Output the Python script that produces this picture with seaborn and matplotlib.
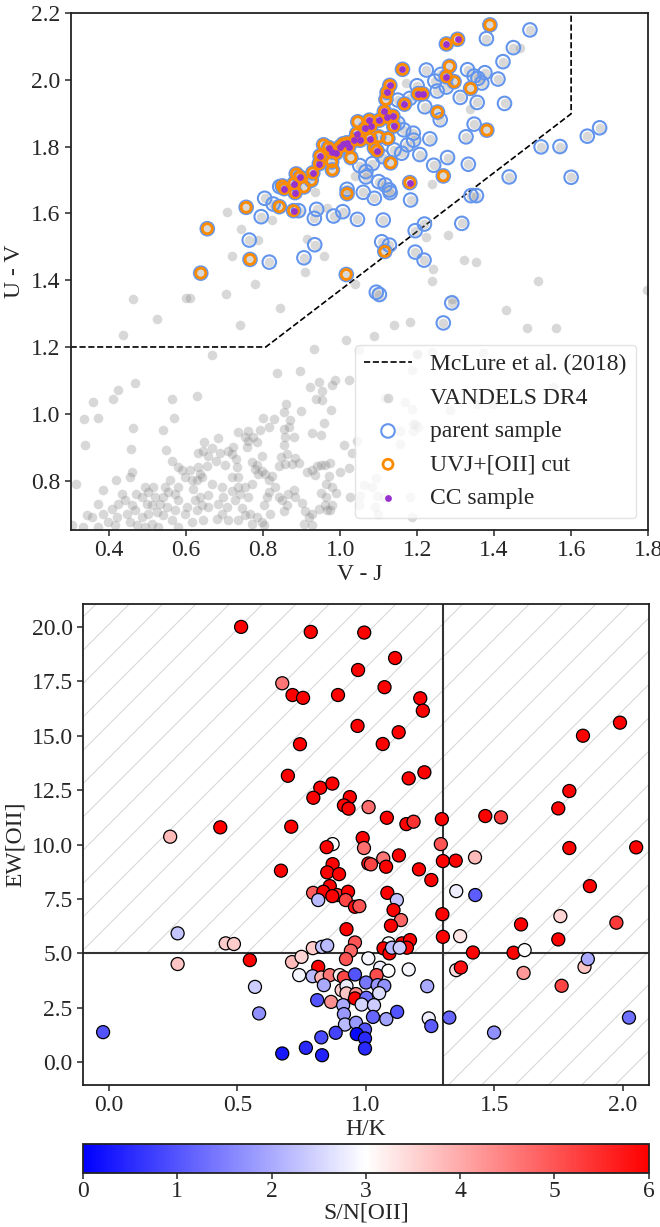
import numpy as np
import pandas as pd
import matplotlib
matplotlib.use("Agg")
import matplotlib.pyplot as plt
import seaborn as sns
from matplotlib.colors import Normalize
from matplotlib.cm import ScalarMappable

# ---------------- data: UVJ panel ----------------
# parent sample (V-J, U-V, stage) stage: 0 = parent only, 1 = UVJ+[OII] cut, 2 = CC sample
parent_vj = [1.389, 1.493, 1.276, 1.305, 1.380, 1.450, 1.423, 1.162, 1.224, 1.284, 1.276, 1.296, 1.246, 1.262,
             1.331, 1.348, 1.358, 1.376, 1.368, 1.410, 1.276, 1.339, 1.312, 1.356, 1.427, 1.252, 1.200, 1.129,
             1.122, 1.119, 1.167, 1.203, 1.214, 1.150, 1.181, 1.220, 1.253, 1.260, 1.348, 1.381, 1.327, 1.233,
             1.191, 1.207, 1.243, 1.279, 1.333, 1.268, 1.439, 1.522, 1.571, 1.642, 1.674, 1.600,
             1.115, 1.137, 1.123, 1.102, 1.139, 1.080, 1.076, 1.065, 1.046, 1.043, 1.078, 1.100, 1.089, 1.096,
             1.131, 1.124, 1.052, 1.037, 1.017, 1.008, 1.022, 1.000, 0.990, 0.970, 0.957, 0.948, 0.946, 0.978,
             0.978, 1.028, 0.980, 0.929, 0.925, 0.906, 0.895, 0.886, 0.880, 0.883, 0.855, 0.850, 0.843,
             1.150, 1.165, 1.175, 1.160, 1.140, 1.190, 1.110,
             1.051, 1.084, 1.067, 1.067, 1.100, 1.117, 1.128, 1.130, 1.060, 1.089, 1.018, 1.018, 1.183, 1.181,
             0.879, 0.892, 0.842, 0.826, 0.804, 0.795, 0.756, 0.939, 0.933, 0.983, 1.007, 1.045, 1.112, 1.219,
             1.195, 1.316, 1.340, 1.354, 0.655, 0.764, 0.934, 0.906, 0.766, 0.816, 0.638, 1.016, 1.108, 1.128,
             1.116, 1.195, 1.218, 1.094, 1.102, 1.290, 1.268]
parent_uv = [2.164, 2.149, 2.107, 2.121, 2.123, 2.096, 2.054, 2.031, 2.029, 2.040, 2.009, 1.994, 1.996, 2.016,
             2.030, 2.011, 2.004, 2.021, 1.990, 2.002, 1.978, 1.974, 1.947, 1.932, 1.929, 1.966, 1.982, 1.983,
             1.962, 1.941, 1.927, 1.958, 1.958, 1.939, 1.944, 1.919, 1.903, 1.880, 1.867, 1.849, 1.829, 1.823,
             1.819, 1.776, 1.744, 1.767, 1.747, 1.712, 1.709, 1.799, 1.800, 1.831, 1.856, 1.708,
             1.905, 1.891, 1.887, 1.879, 1.861, 1.861, 1.879, 1.854, 1.874, 1.838, 1.824, 1.829, 1.796, 1.787,
             1.751, 1.824, 1.819, 1.819, 1.811, 1.808, 1.799, 1.799, 1.781, 1.797, 1.805, 1.772, 1.749, 1.784,
             1.754, 1.767, 1.730, 1.721, 1.699, 1.679, 1.709, 1.718, 1.689, 1.662, 1.674, 1.682, 1.680,
             1.870, 1.850, 1.805, 1.780, 1.790, 1.840, 1.770,
             1.743, 1.749, 1.725, 1.709, 1.695, 1.685, 1.670, 1.662, 1.663, 1.645, 1.672, 1.659, 1.640, 1.692,
             1.608, 1.608, 1.620, 1.628, 1.645, 1.590, 1.618, 1.612, 1.585, 1.592, 1.605, 1.582, 1.580, 1.568,
             1.548, 1.570, 1.653, 1.653, 1.554, 1.520, 1.506, 1.467, 1.462, 1.454, 1.421, 1.417, 1.515, 1.505,
             1.486, 1.484, 1.460, 1.364, 1.357, 1.332, 1.272]
parent_stage = [1, 0, 2, 2, 0, 0, 0, 2, 0, 1, 2, 1, 0, 0,
                0, 0, 0, 0, 0, 0, 0, 1, 0, 0, 0, 0, 0, 2,
                2, 1, 2, 2, 2, 0, 0, 0, 1, 0, 0, 1, 0, 0,
                0, 0, 0, 0, 0, 1, 0, 0, 0, 0, 0, 0,
                2, 2, 2, 2, 2, 2, 2, 2, 1, 2, 2, 1, 1, 2,
                1, 1, 2, 2, 2, 2, 2, 2, 2, 2, 1, 2, 2, 2,
                1, 1, 1, 2, 1, 1, 2, 1, 2, 2, 2, 1, 0,
                0, 0, 0, 0, 0, 0, 0,
                0, 0, 0, 0, 0, 0, 0, 0, 0, 0, 0, 1, 0, 2,
                2, 0, 1, 0, 0, 0, 1, 0, 0, 0, 0, 0, 0, 0,
                0, 0, 0, 0, 1, 0, 0, 0, 1, 0, 1, 1, 0, 0,
                1, 0, 0, 0, 0, 0, 0]

# remaining VANDELS DR4 objects (not in parent sample)
dr4_vj = [1.466, 1.337, 1.172, 1.038, 0.936, 0.707, 0.823, 0.743, 0.787, 0.914, 0.719, 0.959, 0.908, 0.780,
          1.038, 1.238, 1.279, 1.222, 1.241, 1.322, 1.354, 1.238, 1.515, 0.610, 0.600, 0.703, 0.461, 1.798,
          0.965, 0.843, 0.524, 0.740, 0.436, 1.141, 1.181, 1.432, 1.485, 1.560, 1.087, 1.015, 1.290,
          1.199, 1.238, 1.372, 1.186, 1.286, 1.355, 1.398, 1.554, 1.190, 1.203,
          0.667, 0.931, 0.836, 0.895, 0.358, 0.409, 0.424, 0.466, 0.563, 0.627, 0.334, 0.372, 0.463, 0.539,
          0.568, 0.338, 0.457, 0.547, 0.563, 0.313, 0.384, 0.418, 0.459, 0.454, 0.922, 0.944, 0.954, 0.978,
          0.987, 0.937, 0.952, 0.976, 0.899, 0.859, 0.855, 0.829, 0.871, 0.814, 0.800, 0.791, 0.855, 0.867,
          0.857, 0.880, 0.854, 0.861, 0.846, 0.883, 0.928, 0.951, 0.958, 1.009, 1.023, 1.049, 1.117, 1.200,
          0.736, 0.760, 0.753, 0.762, 0.775, 0.757, 0.783, 0.682, 0.647, 0.632, 0.645, 0.667, 0.688, 0.708,
          0.721, 0.719, 0.677, 0.658, 0.654, 0.701, 0.729, 0.733, 0.798, 0.771, 0.783, 0.779, 0.797, 0.786,
          0.805, 0.822, 0.842, 0.857, 0.874, 0.892, 0.914, 0.928, 0.940, 0.951, 0.961, 0.974, 1.000, 1.022,
          0.935, 0.970, 0.963, 0.978, 0.951, 0.989, 0.964, 0.978, 0.961, 0.944, 0.965, 0.975, 1.026, 1.052,
          1.048, 1.063, 1.093, 1.082, 1.095, 1.115, 1.091, 1.098, 1.182, 1.186, 1.156, 1.169, 1.186, 1.190,
          1.156, 1.195, 1.043, 1.032, 0.815, 0.831, 0.864, 0.881, 0.883, 0.848, 0.840, 0.816, 0.810, 0.803,
          0.818, 0.853, 0.861, 0.902, 0.909, 0.926, 0.905, 0.926, 0.918, 0.766, 0.771, 0.783, 0.796, 0.801,
          0.734, 0.753, 0.745, 0.727, 0.719, 0.740, 0.760, 0.753, 0.771, 0.719, 0.736, 0.736, 0.693, 0.697,
          0.684, 0.706, 0.693, 0.680, 0.710, 0.658, 0.658, 0.667, 0.642, 0.628, 0.636, 0.632, 0.610, 0.589,
          0.580, 0.597, 0.615, 0.619, 0.636, 0.623, 0.641, 0.628, 0.645, 0.615, 0.597, 0.602, 0.580, 0.571,
          0.580, 0.558, 0.545, 0.554, 0.541, 0.532, 0.550, 0.571, 0.563, 0.580, 0.541, 0.524, 0.511, 0.519,
          0.502, 0.493, 0.515, 0.485, 0.498, 0.502, 0.485, 0.467, 0.459, 0.446, 0.454, 0.472, 0.493, 0.511,
          0.528, 0.424, 0.407, 0.420, 0.398, 0.385, 0.372, 0.355, 0.342, 0.333, 0.372, 0.416, 0.442, 0.469,
          0.433, 0.303]
dr4_uv = [2.094, 1.912, 1.989, 1.713, 1.665, 1.603, 1.580, 1.552, 1.520, 1.522, 1.472, 1.472, 1.425, 1.388,
          1.388, 1.688, 1.535, 1.528, 1.432, 1.460, 1.455, 1.398, 1.398, 1.347, 1.347, 1.360, 1.343, 1.370,
          1.615, 1.318, 1.283, 1.267, 1.237, 1.267, 1.275, 1.310, 1.257, 1.257, 1.232, 1.220, 1.345,
          1.180, 1.185, 1.182, 1.130, 1.010, 1.030, 1.030, 1.080, 0.970, 0.960,
          1.175, 1.193, 1.122, 1.127, 1.036, 1.045, 1.070, 1.092, 1.043, 1.052, 0.985, 0.987, 0.958, 0.952,
          0.988, 0.908, 0.894, 0.892, 0.860, 0.790, 0.771, 0.803, 0.826, 0.811, 1.080, 1.095, 1.068, 1.085,
          1.100, 1.045, 1.040, 1.010, 1.008, 1.030, 1.005, 0.983, 0.980, 0.960, 0.988, 0.952, 0.955, 0.960,
          0.930, 0.930, 0.907, 0.880, 0.870, 0.868, 0.942, 0.938, 0.972, 0.908, 1.102, 1.190, 1.047, 1.180,
          0.945, 0.948, 0.930, 0.920, 0.930, 0.902, 0.915, 0.927, 0.917, 0.884, 0.888, 0.897, 0.884, 0.890,
          0.900, 0.880, 0.858, 0.873, 0.843, 0.846, 0.864, 0.841, 0.873, 0.856, 0.846, 0.836, 0.829, 0.821,
          0.821, 0.813, 0.843, 0.851, 0.851, 0.853, 0.825, 0.832, 0.843, 0.846, 0.848, 0.853, 0.827, 0.837,
          0.816, 0.813, 0.791, 0.781, 0.763, 0.763, 0.751, 0.726, 0.726, 0.716, 0.711, 0.711, 0.751, 0.753,
          0.726, 0.786, 0.808, 0.781, 0.753, 0.751, 0.721, 0.699, 0.751, 0.691, 0.948, 1.035, 1.015, 0.950,
          0.910, 0.970, 0.920, 0.884, 0.801, 0.781, 0.761, 0.771, 0.751, 0.741, 0.751, 0.766, 0.751, 0.726,
          0.699, 0.710, 0.726, 0.733, 0.710, 0.701, 0.671, 0.666, 0.691, 0.701, 0.671, 0.691, 0.676, 0.666,
          0.681, 0.696, 0.719, 0.741, 0.769, 0.761, 0.751, 0.781, 0.791, 0.811, 0.811, 0.781, 0.781, 0.751,
          0.731, 0.721, 0.701, 0.686, 0.681, 0.721, 0.756, 0.791, 0.811, 0.801, 0.821, 0.841, 0.831, 0.831,
          0.841, 0.811, 0.801, 0.776, 0.751, 0.741, 0.726, 0.711, 0.681, 0.676, 0.701, 0.721, 0.741, 0.761,
          0.781, 0.801, 0.781, 0.766, 0.751, 0.731, 0.721, 0.711, 0.681, 0.661, 0.696, 0.706, 0.726, 0.751,
          0.766, 0.781, 0.781, 0.751, 0.731, 0.701, 0.691, 0.711, 0.726, 0.701, 0.676, 0.666, 0.661, 0.671,
          0.661, 0.731, 0.716, 0.691, 0.676, 0.701, 0.731, 0.691, 0.696, 0.661, 0.661, 0.666, 0.741, 0.761,
          0.761, 0.666]

mclure_vj = [0.3, 0.807, 1.6, 1.6]
mclure_uv = [1.2, 1.2, 1.898, 2.3]

# ---------------- data: EW vs H/K panel ----------------
hk = [0.515, 0.786, 0.994, 1.114, 0.970, 0.675, 0.715, 0.756, 0.892, 1.073, 1.212, 1.222, 0.968, 1.128,
      0.744, 1.066, 1.845, 1.989, 0.697, 1.228, 1.167, 0.823, 0.870, 0.796, 0.938, 0.915, 0.933, 1.011,
      1.082, 1.158, 1.186, 1.296, 1.465, 1.526, 1.749, 1.792, 0.434, 0.710, 0.239, 0.871, 0.848, 0.988,
      0.993, 1.292, 1.792, 2.052, 0.871, 0.850, 0.896, 1.010, 1.020, 1.068, 1.079, 1.129, 1.207, 1.255,
      1.300, 1.350, 1.425, 0.670, 1.352, 1.426, 1.872, 0.860, 0.795, 0.835, 0.889, 0.870, 0.931, 0.922,
      0.958, 0.975, 0.815, 1.084, 1.121, 1.108, 1.137, 1.098, 0.925, 1.298, 1.300, 1.367, 1.604, 1.757,
      1.975, 1.749, 0.268, 0.455, 0.487, 0.958, 0.942, 0.923, 1.089, 1.141, 1.172, 1.160, 1.069, 1.092,
      1.102, 1.132, 0.794, 0.830, 0.850, 1.417, 1.575, 1.618,
      0.549, 0.268, 0.713, 0.750, 1.010, 1.056, 1.088, 1.167, 1.352, 1.370, 1.614, 1.851, 1.864, 1.762,
      0.815, 0.741, 0.793, 0.827, 0.860, 0.899, 0.915, 0.958, 1.042, 0.837, 1.001, 1.046, 1.072, 1.052,
      0.569, 1.239, 0.906, 0.925, 0.925, 0.962, 0.958, 0.865, 0.811, 0.912, 1.002, 0.984, 1.032, 0.585,
      0.915, 1.028, 1.080, 1.122, 1.245, 1.255, 1.325, 2.024, 1.499, -0.022, 0.919, 0.962, 0.997, 0.965,
      0.997, 0.883, 0.827, 0.997, 0.767, 0.675, 0.830]
ew = [20.00, 19.77, 19.74, 18.57, 18.02, 17.41, 16.87, 16.74, 16.87, 17.23, 16.72, 16.15, 15.45, 15.16,
      14.61, 14.62, 15.00, 15.60, 13.16, 13.32, 13.04, 12.61, 12.80, 12.15, 12.18, 11.80, 11.65, 11.72,
      11.23, 10.94, 11.05, 11.17, 11.31, 11.25, 11.66, 12.46, 10.79, 10.82, 10.36, 10.02, 9.88, 10.30,
      9.84, 10.02, 9.84, 9.87, 9.10, 8.72, 8.64, 9.13, 9.09, 9.36, 8.98, 9.50, 8.86, 8.37,
      9.24, 9.26, 9.41, 8.80, 7.86, 7.68, 8.09, 8.09, 7.78, 7.83, 7.68, 7.63, 7.83, 7.45,
      7.14, 7.17, 7.45, 7.78, 7.45, 6.99, 6.53, 6.27, 6.11, 6.80, 5.76, 5.79, 6.33, 6.71,
      6.41, 5.64, 5.92, 5.46, 5.43, 5.50, 5.12, 4.74, 5.46, 5.46, 5.61, 5.26, 5.23, 5.00,
      5.26, 5.26, 5.24, 5.30, 5.36, 5.04, 5.03, 5.15,
      4.69, 4.51, 4.60, 4.84, 4.77, 4.34, 4.20, 4.26, 4.23, 4.35, 4.10, 4.38, 4.74, 3.51,
      4.38, 4.00, 3.95, 3.89, 4.00, 4.00, 3.89, 4.03, 4.00, 3.54, 3.66, 3.54, 3.51, 3.17,
      3.46, 3.49, 3.31, 3.50, 3.16, 3.13, 2.93, 2.77, 2.85, 2.62, 2.96, 2.65, 2.62, 2.24,
      2.21, 2.08, 1.98, 2.31, 2.01, 1.66, 2.05, 2.05, 1.36, 1.38, 1.73, 1.81, 1.50, 1.29,
      1.09, 1.35, 1.14, 0.63, 0.66, 0.40, 0.32]
sn = [6, 6, 6, 6, 6, 4.6, 6, 6, 6, 6, 6, 6, 6, 6,
      6, 6, 6, 6, 6, 6, 6, 6, 6, 6, 6, 6, 6, 4.7,
      6, 6, 5.4, 6, 6, 5.3, 6, 6, 6, 6, 3.8, 3.0, 6, 6,
      4.7, 5.0, 6, 6, 6, 6, 6, 5.8, 5.2, 4.6, 6, 6, 6, 6,
      6, 6, 3.8, 6, 2.8, 1.1, 6, 6, 4.9, 6, 5.4, 6, 6, 5.2,
      5.8, 5.0, 2.2, 6, 2.3, 6, 4.8, 6, 6, 6, 6, 3.3, 6, 3.5,
      5.3, 6, 2.3, 3.6, 3.6, 5.0, 4.8, 5.0, 3.0, 6, 6, 6, 6, 6,
      2.2, 2.4, 3.6, 2.3, 2.2, 6, 6, 3.0,
      6, 3.7, 3.8, 3.5, 2.9, 2.8, 3.0, 2.9, 3.4, 5.8, 4.2, 3.7, 2.0, 5.2,
      6, 2.9, 2.2, 3.9, 4.6, 3.2, 5.2, 1.0, 5.1, 2.0, 1.4, 1.8, 1.7, 2.6,
      2.4, 2.0, 3.6, 2.8, 3.7, 4.3, 6, 4.3, 1.0, 2.0, 1.3, 2.5, 2.4, 1.7,
      1.8, 1.2, 1.9, 1.0, 2.8, 1.1, 1.2, 1.3, 1.7, 1.0, 2.2, 1.8, 1.0, 0.1,
      0.5, 0.8, 0.9, 0.5, 0.5, 0.3, 0.4]

hk_cut = 1.3
ew_cut = 5.0

# ---------------- style ----------------
sns.set_style("ticks")
plt.rcParams["font.family"] = ["Liberation Serif", "DejaVu Serif"]
plt.rcParams["mathtext.fontset"] = "stix"
plt.rcParams["font.size"] = 17
plt.rcParams["axes.linewidth"] = 1.3
plt.rcParams["axes.edgecolor"] = "#222222"
plt.rcParams["hatch.linewidth"] = 0.7

fig = plt.figure(figsize=(6.6, 12.27), dpi=100)
ax1 = fig.add_axes([0.107, 0.568, 0.875, 0.4215])
ax2 = fig.add_axes([0.1258, 0.1157, 0.8568, 0.392])
cax = fig.add_axes([0.1258, 0.0440, 0.8568, 0.0237])

# ---------- top panel ----------
par = pd.DataFrame({"vj": parent_vj, "uv": parent_uv, "stage": parent_stage})
dr4 = pd.DataFrame({"vj": dr4_vj + parent_vj, "uv": dr4_uv + parent_uv})

ax1.plot(mclure_vj, mclure_uv, ls="--", color="black", lw=1.2, label="McLure et al. (2018)")
sns.scatterplot(data=dr4, x="vj", y="uv", ax=ax1, color="grey", alpha=0.3, s=48,
                linewidth=0, label="VANDELS DR4", zorder=2)
sns.scatterplot(data=par, x="vj", y="uv", ax=ax1, facecolor="none", edgecolor="cornflowerblue",
                s=95, linewidth=1.5, label="parent sample", zorder=3)
cut = par[par["stage"] >= 1]
sns.scatterplot(data=cut, x="vj", y="uv", ax=ax1, facecolor="none", edgecolor="darkorange",
                s=52, linewidth=2.0, label="UVJ+[OII] cut", zorder=4)
cc = par[par["stage"] == 2]
sns.scatterplot(data=cc, x="vj", y="uv", ax=ax1, color="darkorchid", s=24, linewidth=0,
                label="CC sample", zorder=5)

ax1.set_xlim(0.3, 1.8)
ax1.set_ylim(0.652, 2.2)
ax1.set_xticks([0.4, 0.6, 0.8, 1.0, 1.2, 1.4, 1.6, 1.8])
ax1.set_yticks([0.8, 1.0, 1.2, 1.4, 1.6, 1.8, 2.0, 2.2])
ax1.set_xticklabels(["0.4", "0.6", "0.8", "1.0", "1.2", "1.4", "1.6", "1.8"])
ax1.set_yticklabels(["0.8", "1.0", "1.2", "1.4", "1.6", "1.8", "2.0", "2.2"])
ax1.set_xlabel("V - J", labelpad=2)
ax1.set_ylabel("U - V", labelpad=4)
leg = ax1.legend(loc="lower right", fontsize=17, frameon=True, framealpha=0.8,
                 edgecolor="#dddddd", fancybox=True)

# ---------- bottom panel ----------
ax2.set_xlim(-0.1, 2.1)
ax2.set_ylim(-1.05, 21.05)
hatch_x = [-0.1, 2.1]
ax2.fill_between(hatch_x, [ew_cut, ew_cut], [21.05, 21.05], hatch="/", facecolor="none",
                 edgecolor="#d4d4d4", linewidth=0, zorder=0)
ax2.fill_between([hk_cut, 2.1], [-1.05, -1.05], [ew_cut, ew_cut], hatch="/", facecolor="none",
                 edgecolor="#d4d4d4", linewidth=0, zorder=0)
ax2.axvline(hk_cut, color="#333333", lw=1.5, zorder=1)
ax2.axhline(ew_cut, color="#333333", lw=1.5, zorder=1)

bot = pd.DataFrame({"hk": hk, "ew": ew, "sn": sn})
sns.scatterplot(data=bot, x="hk", y="ew", hue="sn", palette="bwr", hue_norm=(0, 6), ax=ax2,
                s=88, edgecolor="black", linewidth=0.9, legend=False, zorder=3)
ax2.set_xticks([0.0, 0.5, 1.0, 1.5, 2.0])
ax2.set_xticklabels(["0.0", "0.5", "1.0", "1.5", "2.0"])
ax2.set_yticks([0.0, 2.5, 5.0, 7.5, 10.0, 12.5, 15.0, 17.5, 20.0])
ax2.set_yticklabels(["0.0", "2.5", "5.0", "7.5", "10.0", "12.5", "15.0", "17.5", "20.0"])
ax2.set_xlabel("H/K", labelpad=2)
ax2.set_ylabel("EW[OII]", labelpad=4)

sm = ScalarMappable(norm=Normalize(0, 6), cmap="bwr")
cb = fig.colorbar(sm, cax=cax, orientation="horizontal")
cb.set_ticks([0, 1, 2, 3, 4, 5, 6])
cb.set_label("S/N[OII]", labelpad=0)

for a in (ax1, ax2):
    for sp in a.spines.values():
        sp.set_visible(True)
    a.tick_params(direction="out", length=4, width=1.1)
cax.tick_params(direction="out", length=4, width=1.1, pad=2)

fig.savefig("out.png", dpi=100)
